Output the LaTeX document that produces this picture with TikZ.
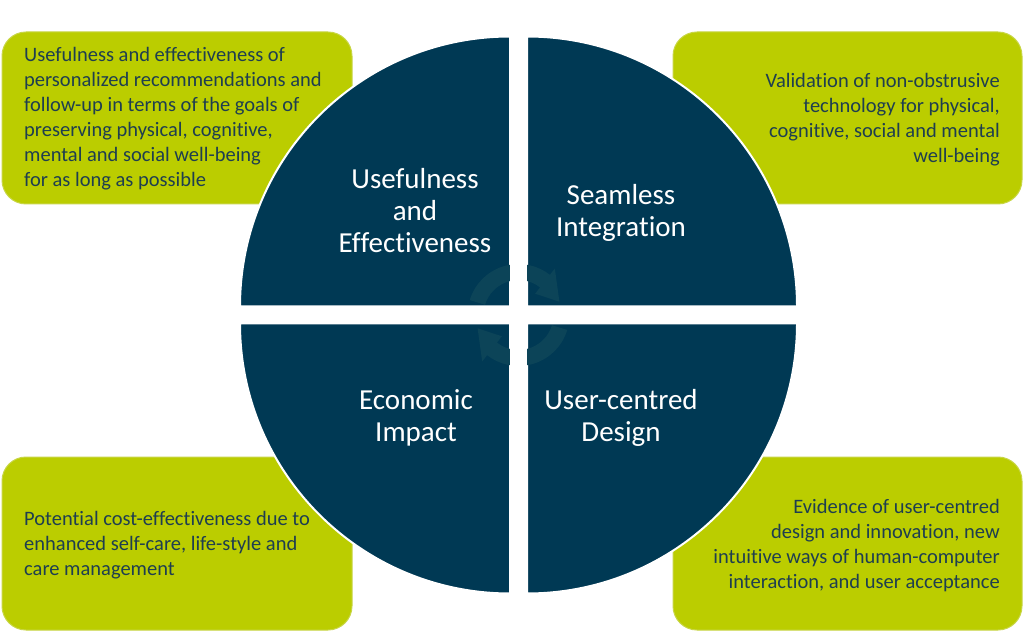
\documentclass[tikz,border=0pt]{standalone}
\usepackage{fontspec}
\setmainfont{Carlito}[Ligatures={NoCommon}]
\definecolor{navy}{RGB}{0,57,84}
\definecolor{lime}{RGB}{187,205,0}
\definecolor{limeedge}{RGB}{200,214,70}
\definecolor{boxtext}{RGB}{30,62,80}
\definecolor{arrowc}{RGB}{12,68,88}
\tikzset{
  greenbox/.style={fill=lime, draw=limeedge, line width=1pt, rounded corners=24pt},
  quad/.style={fill=navy, draw=white, line width=2pt},
  boxlabel/.style={inner sep=0pt, text=boxtext, font=\fontsize{20.5}{25}\selectfont},
  quadlabel/.style={inner sep=0pt, text=white, align=center, font=\fontsize{29}{32}\selectfont},
  cyclearrow/.style={fill=arrowc}
}
\begin{document}
\begin{tikzpicture}[x=1pt,y=1pt]
\useasboundingbox (0,0) rectangle (1024,632);
\fill[white] (0,0) rectangle (1024,632);
% green boxes
\draw[greenbox] (2,428) rectangle (352,600);
\draw[greenbox] (673,428) rectangle (1022,600);
\draw[greenbox] (2,2) rectangle (352,175);
\draw[greenbox] (673,2) rectangle (1022,175);
% quadrants
\draw[quad] (510,325.5) -- (240,325.5) arc[start angle=180, end angle=90, radius=270] -- cycle;
\draw[quad] (527,325.5) -- (527,595.5) arc[start angle=90, end angle=0, radius=270] -- cycle;
\draw[quad] (510,308.5) -- (510,38.5) arc[start angle=270, end angle=180, radius=270] -- cycle;
\draw[quad] (527,308.5) -- (797,308.5) arc[start angle=0, end angle=-90, radius=270] -- cycle;
% faint cycle arrows
\begin{scope}[shift={(518.5,317)}]
\fill[cyclearrow] (163:51) arc[start angle=163, end angle=52, radius=51] -- (52:59) -- (18:43) -- (52:27) -- (52:35) arc[start angle=52, end angle=163, radius=35] -- cycle;
\fill[cyclearrow, rotate=180] (163:51) arc[start angle=163, end angle=52, radius=51] -- (52:59) -- (18:43) -- (52:27) -- (52:35) arc[start angle=52, end angle=163, radius=35] -- cycle;
\end{scope}
\fill[white] (510,240) rectangle (527,395);
\fill[white] (440,308.5) rectangle (597,325.5);
% quadrant labels
\node[quadlabel] (q1) at (415,421.5) {Usefulness\\and\\Effectiveness};
\node[quadlabel] (q2) at (621,419.5) {Seamless\\Integration};
\node[quadlabel] (q3) at (416,214.5) {Economic\\Impact};
\node[quadlabel] (q4) at (621,214.5) {User-centred\\Design};
% box labels
\node[boxlabel, anchor=west, align=left] (b1) at (24,513.5) {Usefulness and effectiveness of\\personalized recommendations and\\follow-up in terms of the goals of\\preserving physical, cognitive,\\mental and social well-being\\for as long as possible};
\node[boxlabel, anchor=east, align=right] (b2) at (1000,512.5) {Validation of non-obstrusive\\technology for physical,\\cognitive, social and mental\\well-being};
\node[boxlabel, anchor=west, align=left] (b3) at (24,87) {Potential cost-effectiveness due to\\enhanced self-care, life-style and\\care management};
\node[boxlabel, anchor=east, align=right] (b4) at (1000,86.5) {Evidence of user-centred\\design and innovation, new\\intuitive ways of human-computer\\interaction, and user acceptance};
\end{tikzpicture}
\end{document}
